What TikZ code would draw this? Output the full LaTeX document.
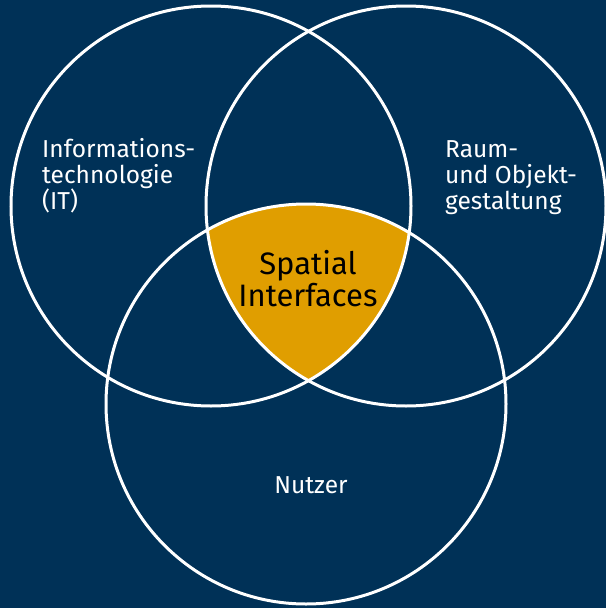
\documentclass[tikz,border=0pt]{standalone}
\usepackage{fontspec}
\setmainfont{Fira Sans}
\usetikzlibrary{positioning}
\definecolor{navy}{RGB}{0,49,87}
\definecolor{gold}{RGB}{224,158,0}

\begin{document}
\begin{tikzpicture}[x=1pt,y=-1pt,
  ring/.style={circle, draw=white, line width=3pt, minimum size=400pt, inner sep=0pt},
  topic/.style={text=white, align=left, inner sep=0pt, font=\fontsize{24.5}{26}\selectfont},
  core/.style={text=black, align=center, inner sep=0pt, font=\fontsize{31}{32}\selectfont}]
  \useasboundingbox[fill=navy] (0,0) rectangle (606,608);
  % circle centres
  \coordinate (cIT) at (211,206);
  \coordinate (cRaum) at (406,206);
  \coordinate (cNutzer) at (306,404);
  % common part of all three
  \begin{scope}
    \clip (cIT) circle[radius=200pt];
    \clip (cRaum) circle[radius=200pt];
    \fill[gold] (cNutzer) circle[radius=200pt];
  \end{scope}
  \node[ring] (it) at (cIT) {};
  \node[ring] (raum) at (cRaum) {};
  \node[ring] (nutzer) at (cNutzer) {};
  % texts (base = last line)
  \node[topic, anchor=base west] (itText) at (42,209) {Informations-\\technologie\\(IT)};
  \node[topic, anchor=base west] (raumText) at (445,209) {Raum-\\und Objekt-\\gestaltung};
  \node[topic, anchor=base] (nutzerText) at (311,493) {Nutzer};
  \node[core, anchor=base] (spatial) at (308,306) {Spatial\\Interfaces};
\end{tikzpicture}
\end{document}
